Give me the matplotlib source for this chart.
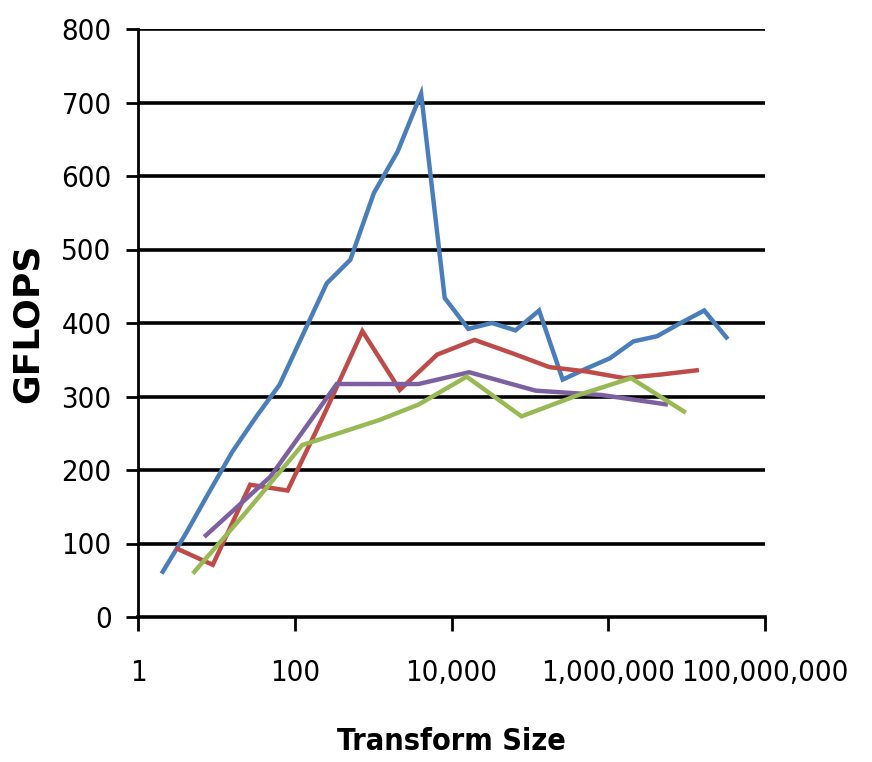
import matplotlib
matplotlib.use("Agg")
from matplotlib import pyplot as plt
from matplotlib.ticker import FixedLocator, FuncFormatter, NullLocator

# Transform sizes and measured GFLOPS for each radix family
sizes_pow2 = [2, 4, 8, 16, 32, 64, 128, 256, 512, 1024, 2048, 4096, 8192,
              16384, 32768, 65536, 131072, 262144, 524288, 1048576, 2097152,
              4194304, 8388608, 16777216, 33554432]
gflops_pow2 = [59, 112, 169, 225, 272, 316, 385, 454, 486, 577, 633, 712, 434,
               392, 400, 390, 417, 323, 338, 352, 375, 382, 400, 417, 378]

sizes_pow3 = [3, 9, 27, 81, 243, 729, 2187, 6561, 19683, 59049, 177147,
              531441, 1594323, 4782969, 14348907]
gflops_pow3 = [94, 71, 180, 172, 278, 389, 309, 357, 377, 359, 340,
               334, 325, 330, 336]

sizes_pow7 = [7, 49, 343, 3800, 16807, 117649, 823543, 5764801]
gflops_pow7 = [109, 191, 317, 317, 333, 308, 302, 289]

sizes_pow5 = [5, 25, 125, 1200, 3800, 15625, 78125, 390625, 1953125, 9765625]
gflops_pow5 = [59, 145, 234, 268, 289, 327, 273, 301, 325, 278]

series = [
    (sizes_pow2, gflops_pow2, "#4a7ebb"),
    (sizes_pow3, gflops_pow3, "#be4b48"),
    (sizes_pow7, gflops_pow7, "#7d60a0"),
    (sizes_pow5, gflops_pow5, "#98b954"),
]

x_ticks = [1, 100, 10000, 1000000, 100000000]
y_ticks = [0, 100, 200, 300, 400, 500, 600, 700, 800]

fig = plt.figure(figsize=(8.72, 7.62), dpi=100)
ax = fig.add_axes([138 / 872, 1 - 617 / 762, 627 / 872, 588 / 762])

# Horizontal grid lines, drawn under the data
for v in y_ticks[1:]:
    ax.axhline(v, color="black", linewidth=2.6, zorder=1)

for x, y, color in series:
    ax.plot(x, y, color=color, linewidth=3.2, zorder=3,
            solid_joinstyle="miter", solid_capstyle="butt")

ax.set_xscale("log")
ax.set_xlim(1, 1e8)
ax.set_ylim(0, 800)

ax.xaxis.set_major_locator(FixedLocator(x_ticks))
ax.xaxis.set_minor_locator(NullLocator())
ax.xaxis.set_major_formatter(FuncFormatter(lambda v, pos: f"{int(round(v)):,}"))
ax.yaxis.set_major_locator(FixedLocator(y_ticks))

for side in ["top", "right"]:
    ax.spines[side].set_visible(False)
ax.spines["bottom"].set_linewidth(2.6)
ax.spines["left"].set_linewidth(2.0)

ax.tick_params(axis="x", direction="out", length=10, width=2.0, pad=20)
ax.tick_params(axis="y", direction="out", length=9, width=2.0, pad=10)
for lbl in ax.get_xticklabels() + ax.get_yticklabels():
    lbl.set_family("DejaVu Sans")
    lbl.set_stretch("condensed")
    lbl.set_fontsize(21)

fig.text(28 / 872, 1 - 323 / 762, "GFLOPS", rotation=90, ha="center",
         va="center", fontsize=26, fontweight="bold", family="DejaVu Sans")
fig.text(451 / 872, 1 - 742 / 762, "Transform Size", ha="center",
         va="center", fontsize=22, fontweight="bold", family="DejaVu Sans",
         stretch="condensed")

fig.savefig("out.png", dpi=100)
